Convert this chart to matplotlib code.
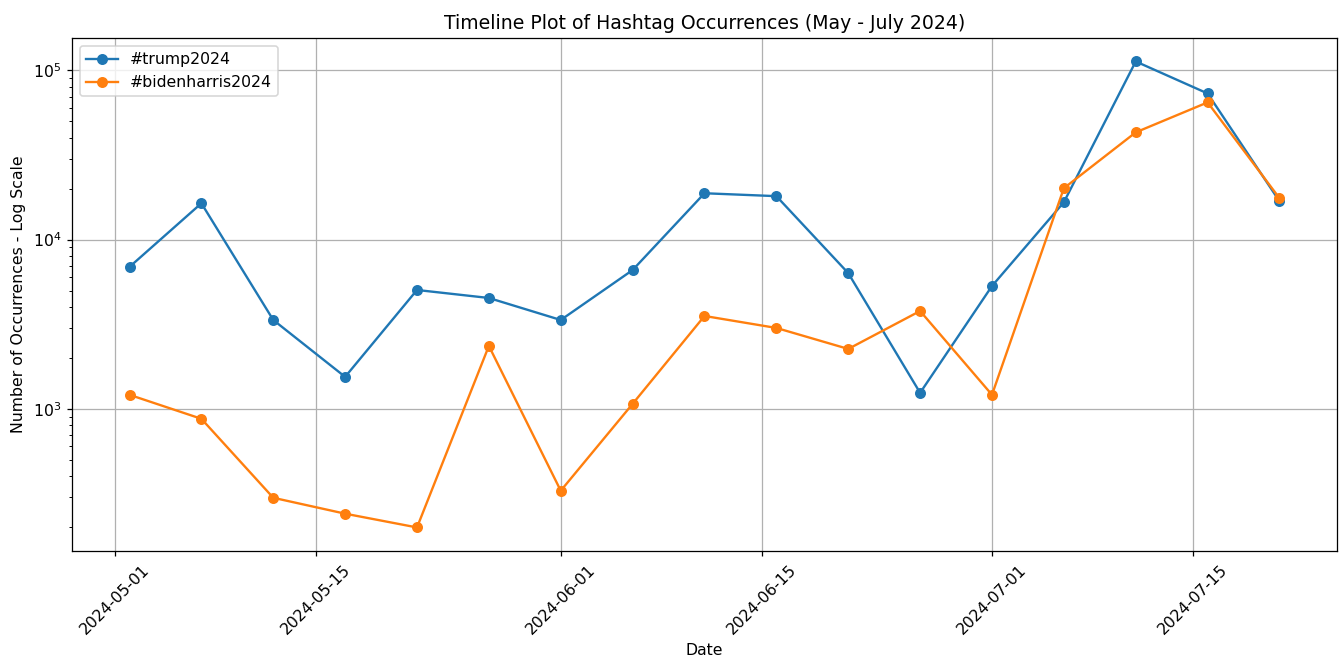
import matplotlib
matplotlib.use("Agg")
import matplotlib.pyplot as plt
import pandas as pd

dates = pd.date_range("2024-05-02", periods=17, freq="5D")
trump = [6900, 16400, 3350, 1545, 5040, 4520, 3350, 6610, 18800, 18070,
         6340, 1243, 5320, 16640, 113000, 73100, 16870]
biden = [1210, 873, 298, 240, 199, 2353, 328, 1070, 3538, 3006,
         2259, 3786, 1210, 20130, 43060, 64750, 17570]
labels = ["#trump2024", "#bidenharris2024"]

DPI = 113
fig, ax = plt.subplots(figsize=(1341 / DPI, 658 / DPI), dpi=DPI)
ax.plot(dates, trump, marker="o", label=labels[0])
ax.plot(dates, biden, marker="o", label=labels[1])
ax.set_yscale("log")
ax.set_title("Timeline Plot of Hashtag Occurrences (May - July 2024)")
ax.set_xlabel("Date")
ax.set_ylabel("Number of Occurrences - Log Scale")
ax.legend(loc="upper left")
ax.grid(True)
plt.setp(ax.get_xticklabels(), rotation=45)
fig.subplots_adjust(left=0.0537, right=0.997, top=0.942, bottom=0.163)
fig.savefig("out.png", dpi=DPI)
